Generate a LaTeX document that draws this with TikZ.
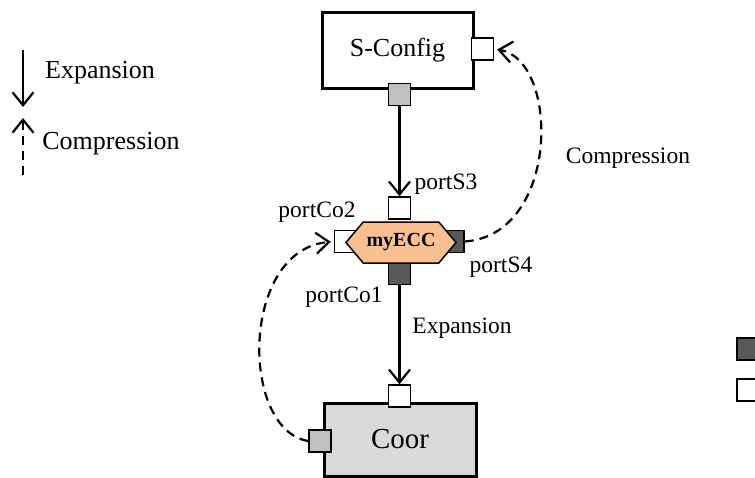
\documentclass[tikz,border=0pt]{standalone}
\usepackage{fontspec}
\setmainfont{Liberation Serif}
\usetikzlibrary{arrows.meta,shapes.symbols}
\definecolor{eccorange}{RGB}{250,192,143}
\definecolor{portgray}{RGB}{192,192,192}
\definecolor{portdark}{RGB}{89,89,89}
\definecolor{coorgray}{RGB}{217,217,217}
\begin{document}
\begin{tikzpicture}
  [x=1pt, y=-1pt,
   box/.style = {draw, line width=3pt, inner sep=0pt},
   port/.style = {draw, line width=1.5pt, minimum size=22pt, inner sep=0pt, fill=white},
   hexa/.style = {shape=signal, signal to=west and east, signal pointer angle=100,
                  draw, line width=1.5pt, fill=eccorange, minimum width=110pt,
                  minimum height=41pt, inner sep=0pt, font=\bfseries\fontsize{20}{24}\selectfont},
   lbl/.style = {inner sep=0pt, font=\fontsize{23.5}{28}\selectfont},
   legend/.style = {inner sep=0pt, font=\fontsize{26}{30}\selectfont},
   flow/.style = {line width=2.2pt, -{Straight Barb[length=13pt,width=21pt,line width=2.2pt]}},
   back/.style = {flow, dash pattern=on 9pt off 6pt}]
  \clip (0,0) rectangle (755,477);
  % legend
  \coordinate (eTop) at (23,50);
  \coordinate (eBot) at (23,107);
  \coordinate (cBot) at (23,175);
  \coordinate (cTop) at (23,118);
  \draw[flow] (eTop) -- (eBot);
  \draw[back] (cBot) -- (cTop);
  \node[legend] (legE) at (100,73) {Expansion};
  \node[legend] (legC) at (111,144) {Compression};
  % components
  \node[box, minimum width=151pt, minimum height=76pt, font=\fontsize{26}{30}\selectfont]
    (sconf) at (397.5,50) {S-Config};
  \node[box, fill=coorgray, minimum width=152pt, minimum height=73pt, font=\fontsize{29}{34}\selectfont]
    (coor) at (400,439.5) {Coor};
  \node[port] (sRight) at (482.5,49) {};
  \node[port, fill=portgray] (sBottom) at (399.5,94.5) {};
  \node[port] (cTopPort) at (399.5,396) {};
  \node[port, fill=portgray] (cLeft) at (320,441) {};
  % myECC and its ports
  \node[port] (s3) at (399.5,208) {};
  \node[port, fill=portdark] (co1) at (399.5,273.5) {};
  \node[port] (co2) at (345.5,241.5) {};
  \node[port, fill=portdark] (s4) at (453,241.5) {};
  \node[hexa] (ecc) at (401,242.5) {myECC};
  \node[lbl] (lS3) at (446,184) {portS3};
  \node[lbl] (lCo2) at (317,212) {portCo2};
  \node[lbl] (lS4) at (501,267) {portS4};
  \node[lbl] (lCo1) at (344,297) {portCo1};
  % connectors
  \draw[flow] (sBottom) -- (s3);
  \draw[flow] (co1) -- (cTopPort);
  \draw[back, shorten >=3pt] (s4.east) .. controls (560,235) and (560,60) .. (sRight.east);
  \draw[back, shorten >=3pt] (cLeft.west) .. controls (240,430) and (240,250) .. (co2.west);
  \node[lbl] (lExp) at (462,328) {Expansion};
  \node[lbl] (lComp) at (628,158) {Compression};
  % key squares at the right edge
  \node[port, fill=portdark] (keyDark) at (748,349) {};
  \node[port] (keyWhite) at (748,390) {};
\end{tikzpicture}
\end{document}
